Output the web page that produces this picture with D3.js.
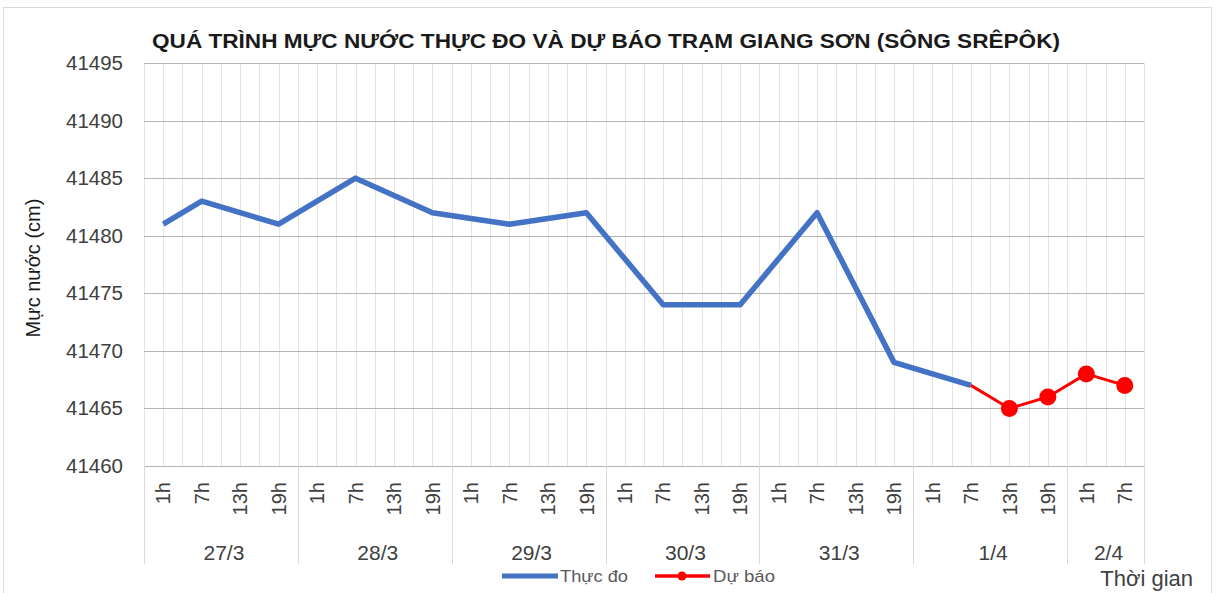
<!DOCTYPE html>
<meta charset="utf-8">
<head>
<style>
  body { margin: 0; background: #fff; }
  text { font-family: "Liberation Sans", Arial, sans-serif; }
</style>
<script src="https://cdn.jsdelivr.net/npm/d3@7"></script>
</head>
<body>
<div id="vis"></div>
<script>
// ---- data ----
var days = ["27/3", "28/3", "29/3", "30/3", "31/3", "1/4", "2/4"];
var hours = ["1h", "7h", "13h", "19h"];
var hoursPerDay = [4, 4, 4, 4, 4, 4, 2];
// measured level (cm), null = no reading (line is joined across)
var thucDo = [41481, 41483, null, 41481, null, 41485, null, 41482,
              null, 41481, null, 41482, null, 41474, null, 41474,
              null, 41482, null, 41469, null, 41467, null, null, null, null];
// forecast level (cm)
var duBao = [null, null, null, null, null, null, null, null,
             null, null, null, null, null, null, null, null,
             null, null, null, null, null, 41467, 41465, 41466, 41468, 41467];
var yTicks = [41460, 41465, 41470, 41475, 41480, 41485, 41490, 41495];

// build category list
var cats = [];
days.forEach(function(d, i) {
  for (var k = 0; k < hoursPerDay[i]; k++) cats.push({ day: d, hour: hours[k], id: d + "_" + hours[k] });
});

var width = 1217, height = 593;
var margin = { top: 63, left: 144, right: 73, bottom: 127 };
var plotW = width - margin.left - margin.right,
    plotH = height - margin.top - margin.bottom;

var svg = d3.select("#vis").append("svg").attr("width", width).attr("height", height);

// chart border
svg.append("rect").attr("x", 3.5).attr("y", 7.5).attr("width", 1208).attr("height", 590)
  .attr("fill", "none").attr("stroke", "#d9d9d9");

var g = svg.append("g").attr("transform", "translate(" + margin.left + "," + margin.top + ")");

var x = d3.scaleBand().domain(cats.map(function(c) { return c.id; })).range([0, plotW]);
var y = d3.scaleLinear().domain([41460, 41495]).range([plotH, 0]);
var bw = x.bandwidth();

// vertical gridlines (category edges and centres)
var vlines = [];
cats.forEach(function(c) { vlines.push(x(c.id)); vlines.push(x(c.id) + bw / 2); });
vlines.push(plotW);
g.selectAll(".vgrid").data(vlines).enter().append("line")
  .attr("x1", function(d) { return Math.round(d) + 0.5; })
  .attr("x2", function(d) { return Math.round(d) + 0.5; })
  .attr("y1", 0).attr("y2", plotH)
  .attr("stroke", "#e3e3e3").attr("stroke-width", 1);

// horizontal gridlines
g.selectAll(".hgrid").data(yTicks).enter().append("line")
  .attr("x1", 0).attr("x2", plotW)
  .attr("y1", function(d) { return Math.round(y(d)) + 0.5; })
  .attr("y2", function(d) { return Math.round(y(d)) + 0.5; })
  .attr("stroke", "#b5b5b5").attr("stroke-width", 1);

// y axis labels
var yAxis = g.append("g").call(d3.axisLeft(y).tickValues(yTicks).tickSize(0).tickPadding(21).tickFormat(d3.format("d")));
yAxis.select(".domain").remove();
yAxis.selectAll("text").attr("font-size", "20.5px").attr("fill", "#404040")
  .style("font-family", "'Liberation Sans', Arial, sans-serif");

// x axis: hours, rotated
var xAxis = g.append("g").attr("transform", "translate(0," + plotH + ")")
  .call(d3.axisBottom(x).tickSize(0).tickFormat(function(d) { return d.split("_")[1]; }));
xAxis.select(".domain").remove();
xAxis.selectAll("text")
  .attr("font-size", "20px").attr("fill", "#404040")
  .style("font-family", "'Liberation Sans', Arial, sans-serif")
  .attr("text-anchor", "end")
  .attr("transform", "rotate(-90)")
  .attr("x", -16).attr("y", 0).attr("dy", "0.36em");

// day groups
var groups = [], idx = 0;
days.forEach(function(d, i) {
  groups.push({ day: d, start: idx, end: idx + hoursPerDay[i] });
  idx += hoursPerDay[i];
});
var sep = [0].concat(groups.map(function(gr) { return gr.end; }));
g.selectAll(".sep").data(sep).enter().append("line")
  .attr("x1", function(d) { return Math.round(d * bw) + 0.5; })
  .attr("x2", function(d) { return Math.round(d * bw) + 0.5; })
  .attr("y1", plotH).attr("y2", plotH + 98)
  .attr("stroke", "#d9d9d9");
g.selectAll(".day").data(groups).enter().append("text")
  .attr("x", function(d) { return (d.start + d.end) / 2 * bw + 3; })
  .attr("y", plotH + 94)
  .attr("text-anchor", "middle").attr("font-size", "21px").attr("fill", "#404040")
  .text(function(d) { return d.day; });

// lines
function pts(arr) {
  return cats.map(function(c, i) { return { id: c.id, v: arr[i] }; })
    .filter(function(p) { return p.v != null; });
}
var line = d3.line()
  .x(function(d) { return x(d.id) + bw / 2; })
  .y(function(d) { return y(d.v); });

g.append("path").datum(pts(thucDo)).attr("d", line)
  .attr("fill", "none").attr("stroke", "#4472c4").attr("stroke-width", 5.5)
  .attr("stroke-linejoin", "round");

var fc = pts(duBao);
g.append("path").datum(fc).attr("d", line)
  .attr("fill", "none").attr("stroke", "#ff0000").attr("stroke-width", 3);
g.selectAll(".mk").data(fc.slice(1)).enter().append("circle")
  .attr("cx", function(d) { return x(d.id) + bw / 2; })
  .attr("cy", function(d) { return y(d.v); })
  .attr("r", 8.5).attr("fill", "#ff0000");

// title
svg.append("text").attr("x", 152).attr("y", 48)
  .attr("font-size", "21px").attr("font-weight", "bold").attr("fill", "#1a1a1a")
  .attr("textLength", 908).attr("lengthAdjust", "spacingAndGlyphs")
  .text("QUÁ TRÌNH MỰC NƯỚC THỰC ĐO VÀ DỰ BÁO TRẠM GIANG SƠN (SÔNG SRÊPÔK)");

// y title
svg.append("text").attr("transform", "translate(40,268) rotate(-90)")
  .attr("text-anchor", "middle").attr("font-size", "20px").attr("fill", "#1a1a1a")
  .text("Mực nước (cm)");

// x title
svg.append("text").attr("x", 1193).attr("y", 586).attr("text-anchor", "end")
  .attr("font-size", "22px").attr("fill", "#404040").text("Thời gian");

// legend
var leg = svg.append("g").attr("transform", "translate(0,576)");
leg.append("line").attr("x1", 502).attr("x2", 558).attr("y1", 0).attr("y2", 0)
  .attr("stroke", "#4472c4").attr("stroke-width", 5);
leg.append("text").attr("x", 560).attr("y", 6).attr("font-size", "17px").attr("fill", "#595959")
  .attr("textLength", 68).attr("lengthAdjust", "spacingAndGlyphs").text("Thực đo");
leg.append("line").attr("x1", 655).attr("x2", 710).attr("y1", 0).attr("y2", 0)
  .attr("stroke", "#ff0000").attr("stroke-width", 3.5);
leg.append("circle").attr("cx", 682).attr("cy", 0).attr("r", 4.5).attr("fill", "#ff0000");
leg.append("text").attr("x", 713).attr("y", 6).attr("font-size", "17px").attr("fill", "#595959")
  .attr("textLength", 62).attr("lengthAdjust", "spacingAndGlyphs").text("Dự báo");
</script>
</body>
